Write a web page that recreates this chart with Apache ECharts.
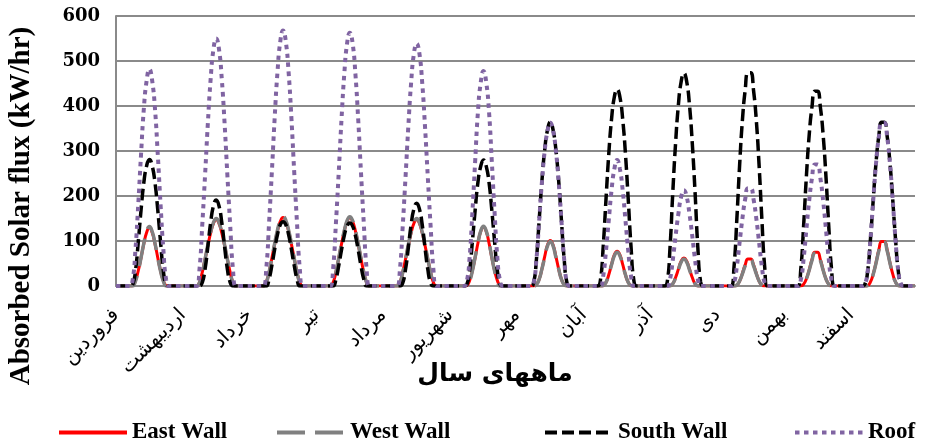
<!DOCTYPE html>
<html>
<head>
<meta charset="utf-8">
<script src="https://cdn.jsdelivr.net/npm/echarts@6/dist/echarts.min.js"></script>
<style>
html,body{margin:0;padding:0;background:#fff;}
#chart{width:926px;height:446px;}
</style>
</head>
<body>
<div id="chart"></div>
<script>
// Month names (Persian solar calendar)
const months = ['فروردین','اردیبهشت','خرداد','تیر','مرداد','شهریور','مهر','آبان','آذر','دی','بهمن','اسفند'];
const yTicks = [0,100,200,300,400,500,600];
const xTitle = 'ماههای سال';
const yTitle = 'Absorbed Solar flux (kW/hr)';
const seriesNames = ['East Wall','West Wall','South Wall','Roof'];

// Hourly values (24 per month)
const eastWall = [
 [0,0,0,0,0,0,1,12,34,63,94,119,130,119,94,63,34,12,1,0,0,0,0,0],
 [0,0,0,0,0,0,8,31,60,90,118,139,148,139,118,90,60,31,8,0,0,0,0,0],
 [0,0,0,0,0,0,9,31,62,93,122,143,152,143,122,93,62,31,9,0,0,0,0,0],
 [0,0,0,0,0,0,8,31,61,93,122,143,152,143,122,93,61,31,8,0,0,0,0,0],
 [0,0,0,0,0,0,8,31,60,90,118,139,148,139,118,90,60,31,8,0,0,0,0,0],
 [0,0,0,0,0,0,1,12,34,63,95,121,131,121,95,63,34,12,1,0,0,0,0,0],
 [0,0,0,0,0,0,0,3,15,38,66,91,101,91,66,38,15,3,0,0,0,0,0,0],
 [0,0,0,0,0,0,0,1,8,25,48,69,77,69,48,25,8,1,0,0,0,0,0,0],
 [0,0,0,0,0,0,0,0,5,19,37,55,62,55,37,19,5,0,0,0,0,0,0,0],
 [0,0,0,0,0,0,0,2,11,28,47,60,60,47,28,11,2,0,0,0,0,0,0,0],
 [0,0,0,0,0,0,0,4,16,36,59,75,75,59,36,16,4,0,0,0,0,0,0,0],
 [0,0,0,0,0,0,1,9,27,52,80,99,99,80,52,27,9,1,0,0,0,0,0,0]
];
const westWall = [
 [0,0,0,0,0,0,0,11,33,63,95,121,132,121,95,63,33,11,0,0,0,0,0,0],
 [0,0,0,0,0,0,8,30,60,92,120,141,150,141,120,92,60,30,8,0,0,0,0,0],
 [0,0,0,0,0,0,8,31,62,95,124,146,155,146,124,95,62,31,8,0,0,0,0,0],
 [0,0,0,0,0,0,8,31,62,94,123,145,154,145,123,94,62,31,8,0,0,0,0,0],
 [0,0,0,0,0,0,8,30,60,92,120,141,150,141,120,92,60,30,8,0,0,0,0,0],
 [0,0,0,0,0,0,0,11,33,64,96,122,133,122,96,64,33,11,0,0,0,0,0,0],
 [0,0,0,0,0,0,0,3,15,38,64,89,99,89,64,38,15,3,0,0,0,0,0,0],
 [0,0,0,0,0,0,0,1,8,25,47,67,75,67,47,25,8,1,0,0,0,0,0,0],
 [0,0,0,0,0,0,0,0,5,18,36,53,60,53,36,18,5,0,0,0,0,0,0,0],
 [0,0,0,0,0,0,0,2,11,27,45,58,58,45,27,11,2,0,0,0,0,0,0,0],
 [0,0,0,0,0,0,0,4,16,35,57,73,73,57,35,16,4,0,0,0,0,0,0,0],
 [0,0,0,0,0,0,1,9,26,51,78,97,97,78,51,26,9,1,0,0,0,0,0,0]
];
const southWall = [
 [0,0,0,0,0,0,3,34,98,169,230,267,281,267,230,169,98,34,3,0,0,0,0,0],
 [0,0,0,0,0,0,0,8,38,88,141,178,191,178,141,88,38,8,0,0,0,0,0,0],
 [0,0,0,0,0,0,0,16,46,82,114,136,143,136,114,82,46,16,0,0,0,0,0,0],
 [0,0,0,0,0,0,0,15,45,80,112,133,140,133,112,80,45,15,0,0,0,0,0,0],
 [0,0,0,0,0,0,0,7,37,85,136,171,184,171,136,85,37,7,0,0,0,0,0,0],
 [0,0,0,0,0,0,3,34,98,168,230,266,280,266,230,168,98,34,3,0,0,0,0,0],
 [0,0,0,0,0,0,7,58,146,234,303,347,365,347,303,234,146,58,7,0,0,0,0,0],
 [0,0,0,0,0,0,13,87,192,293,371,420,437,420,371,293,192,87,13,0,0,0,0,0],
 [0,0,0,0,0,0,9,85,208,317,402,454,473,454,402,317,208,85,9,0,0,0,0,0],
 [0,0,0,0,0,0,43,148,268,368,435,474,474,435,368,268,148,43,0,0,0,0,0,0],
 [0,0,0,0,0,0,39,135,245,336,398,433,433,398,336,245,135,39,0,0,0,0,0,0],
 [0,0,0,0,0,4,33,104,192,274,333,364,364,333,274,192,104,33,4,0,0,0,0,0]
];
const roof = [
 [0,0,0,0,0,0,14,82,182,293,394,456,482,456,394,293,182,82,14,0,0,0,0,0],
 [0,0,0,0,0,0,38,137,247,362,460,526,550,526,460,362,247,137,38,0,0,0,0,0],
 [0,0,0,0,0,0,40,142,255,374,475,543,568,543,475,374,255,142,40,0,0,0,0,0],
 [0,0,0,0,0,0,39,140,252,370,471,539,563,539,471,370,252,140,39,0,0,0,0,0],
 [0,0,0,0,0,0,38,134,242,354,451,516,539,516,451,354,242,134,38,0,0,0,0,0],
 [0,0,0,0,0,0,10,62,162,276,386,452,478,452,386,276,162,62,10,0,0,0,0,0],
 [0,0,0,0,0,0,7,58,145,232,301,345,363,345,301,232,145,58,7,0,0,0,0,0],
 [0,0,0,0,0,0,0,22,78,146,213,260,280,260,213,146,78,22,0,0,0,0,0,0],
 [0,0,0,0,0,0,0,15,58,111,160,198,213,198,160,111,58,15,0,0,0,0,0,0],
 [0,0,0,0,0,0,7,43,97,150,193,217,217,193,150,97,43,7,0,0,0,0,0,0],
 [0,0,0,0,0,0,14,61,127,190,240,270,270,240,190,127,61,14,0,0,0,0,0,0],
 [0,0,0,0,0,4,33,103,191,272,331,362,362,331,272,191,103,33,4,0,0,0,0,0]
];

// Build the category axis (month|hour) and flatten the series
const categories = [];
months.forEach(m => { for (let h = 0; h < 24; h++) categories.push(m + '|' + h); });
const flat = rows => rows.reduce((a, r) => a.concat(r), []);

const serif = 'DejaVu Serif';
const legendFont = {fontFamily: 'Liberation Serif', fontWeight: 'bold', fontSize: 23, color: '#000'};
const legendPos = [57, 275, 543, 793];

const chart = echarts.init(document.getElementById('chart'), null, {renderer: 'canvas'});
chart.setOption({
  animation: false,
  backgroundColor: '#fff',
  grid: {left: 116, right: 11, top: 16, bottom: 160, containLabel: false},
  legend: seriesNames.map((n, i) => ({
    data: [n], left: legendPos[i], top: 421, padding: 0, itemWidth: 68, itemHeight: 14, itemGap: 0,
    itemStyle: {opacity: 0},
    lineStyle: {width: 4},
    textStyle: legendFont
  })),
  xAxis: {
    type: 'category', data: categories, boundaryGap: false,
    axisLine: {show: true, lineStyle: {color: '#8a8a8a', width: 2}},
    axisTick: {show: false},
    splitLine: {show: false},
    axisLabel: {
      interval: 23, rotate: 45, margin: 26,
      fontFamily: 'DejaVu Sans', fontSize: 20, color: '#000',
      formatter: v => v.split('|')[0]
    }
  },
  yAxis: {
    type: 'value', min: yTicks[0], max: yTicks[yTicks.length - 1], interval: 100,
    axisLine: {show: true, lineStyle: {color: '#8a8a8a', width: 2}},
    axisTick: {show: false},
    splitLine: {show: true, lineStyle: {color: '#8a8a8a', width: 2}},
    axisLabel: {margin: 16, fontFamily: serif, fontWeight: 'bold', fontSize: 18, color: '#000'}
  },
  graphic: [
    {type: 'text', x: 22, y: 206, rotation: Math.PI / 2,
     style: {text: yTitle, fontFamily: 'Liberation Serif', fontWeight: 'bold', fontSize: 29, fill: '#000', align: 'center', verticalAlign: 'middle'}},
    {type: 'text', x: 495, y: 374,
     style: {text: xTitle, fontFamily: 'DejaVu Sans', fontWeight: 'bold', fontSize: 25, fill: '#000', align: 'center', verticalAlign: 'middle'}}
  ],
  series: [
    {name: seriesNames[0], type: 'line', data: flat(eastWall), smooth: 0.5, showSymbol: false, symbol: 'none',
     itemStyle: {color: '#ff0000'}, lineStyle: {color: '#ff0000', width: 3, type: 'solid'}},
    {name: seriesNames[1], type: 'line', data: flat(westWall), smooth: 0.5, showSymbol: false, symbol: 'none',
     itemStyle: {color: '#808080'}, lineStyle: {color: '#808080', width: 3.5, type: [28, 10]}},
    {name: seriesNames[2], type: 'line', data: flat(southWall), smooth: 0.5, showSymbol: false, symbol: 'none',
     itemStyle: {color: '#000000'}, lineStyle: {color: '#000000', width: 3.5, type: [12, 5]}},
    {name: seriesNames[3], type: 'line', data: flat(roof), smooth: 0.5, showSymbol: false, symbol: 'none',
     itemStyle: {color: '#8064a2'}, lineStyle: {color: '#8064a2', width: 4, type: [4.5, 4.5]}}
  ]
});
</script>
</body>
</html>
